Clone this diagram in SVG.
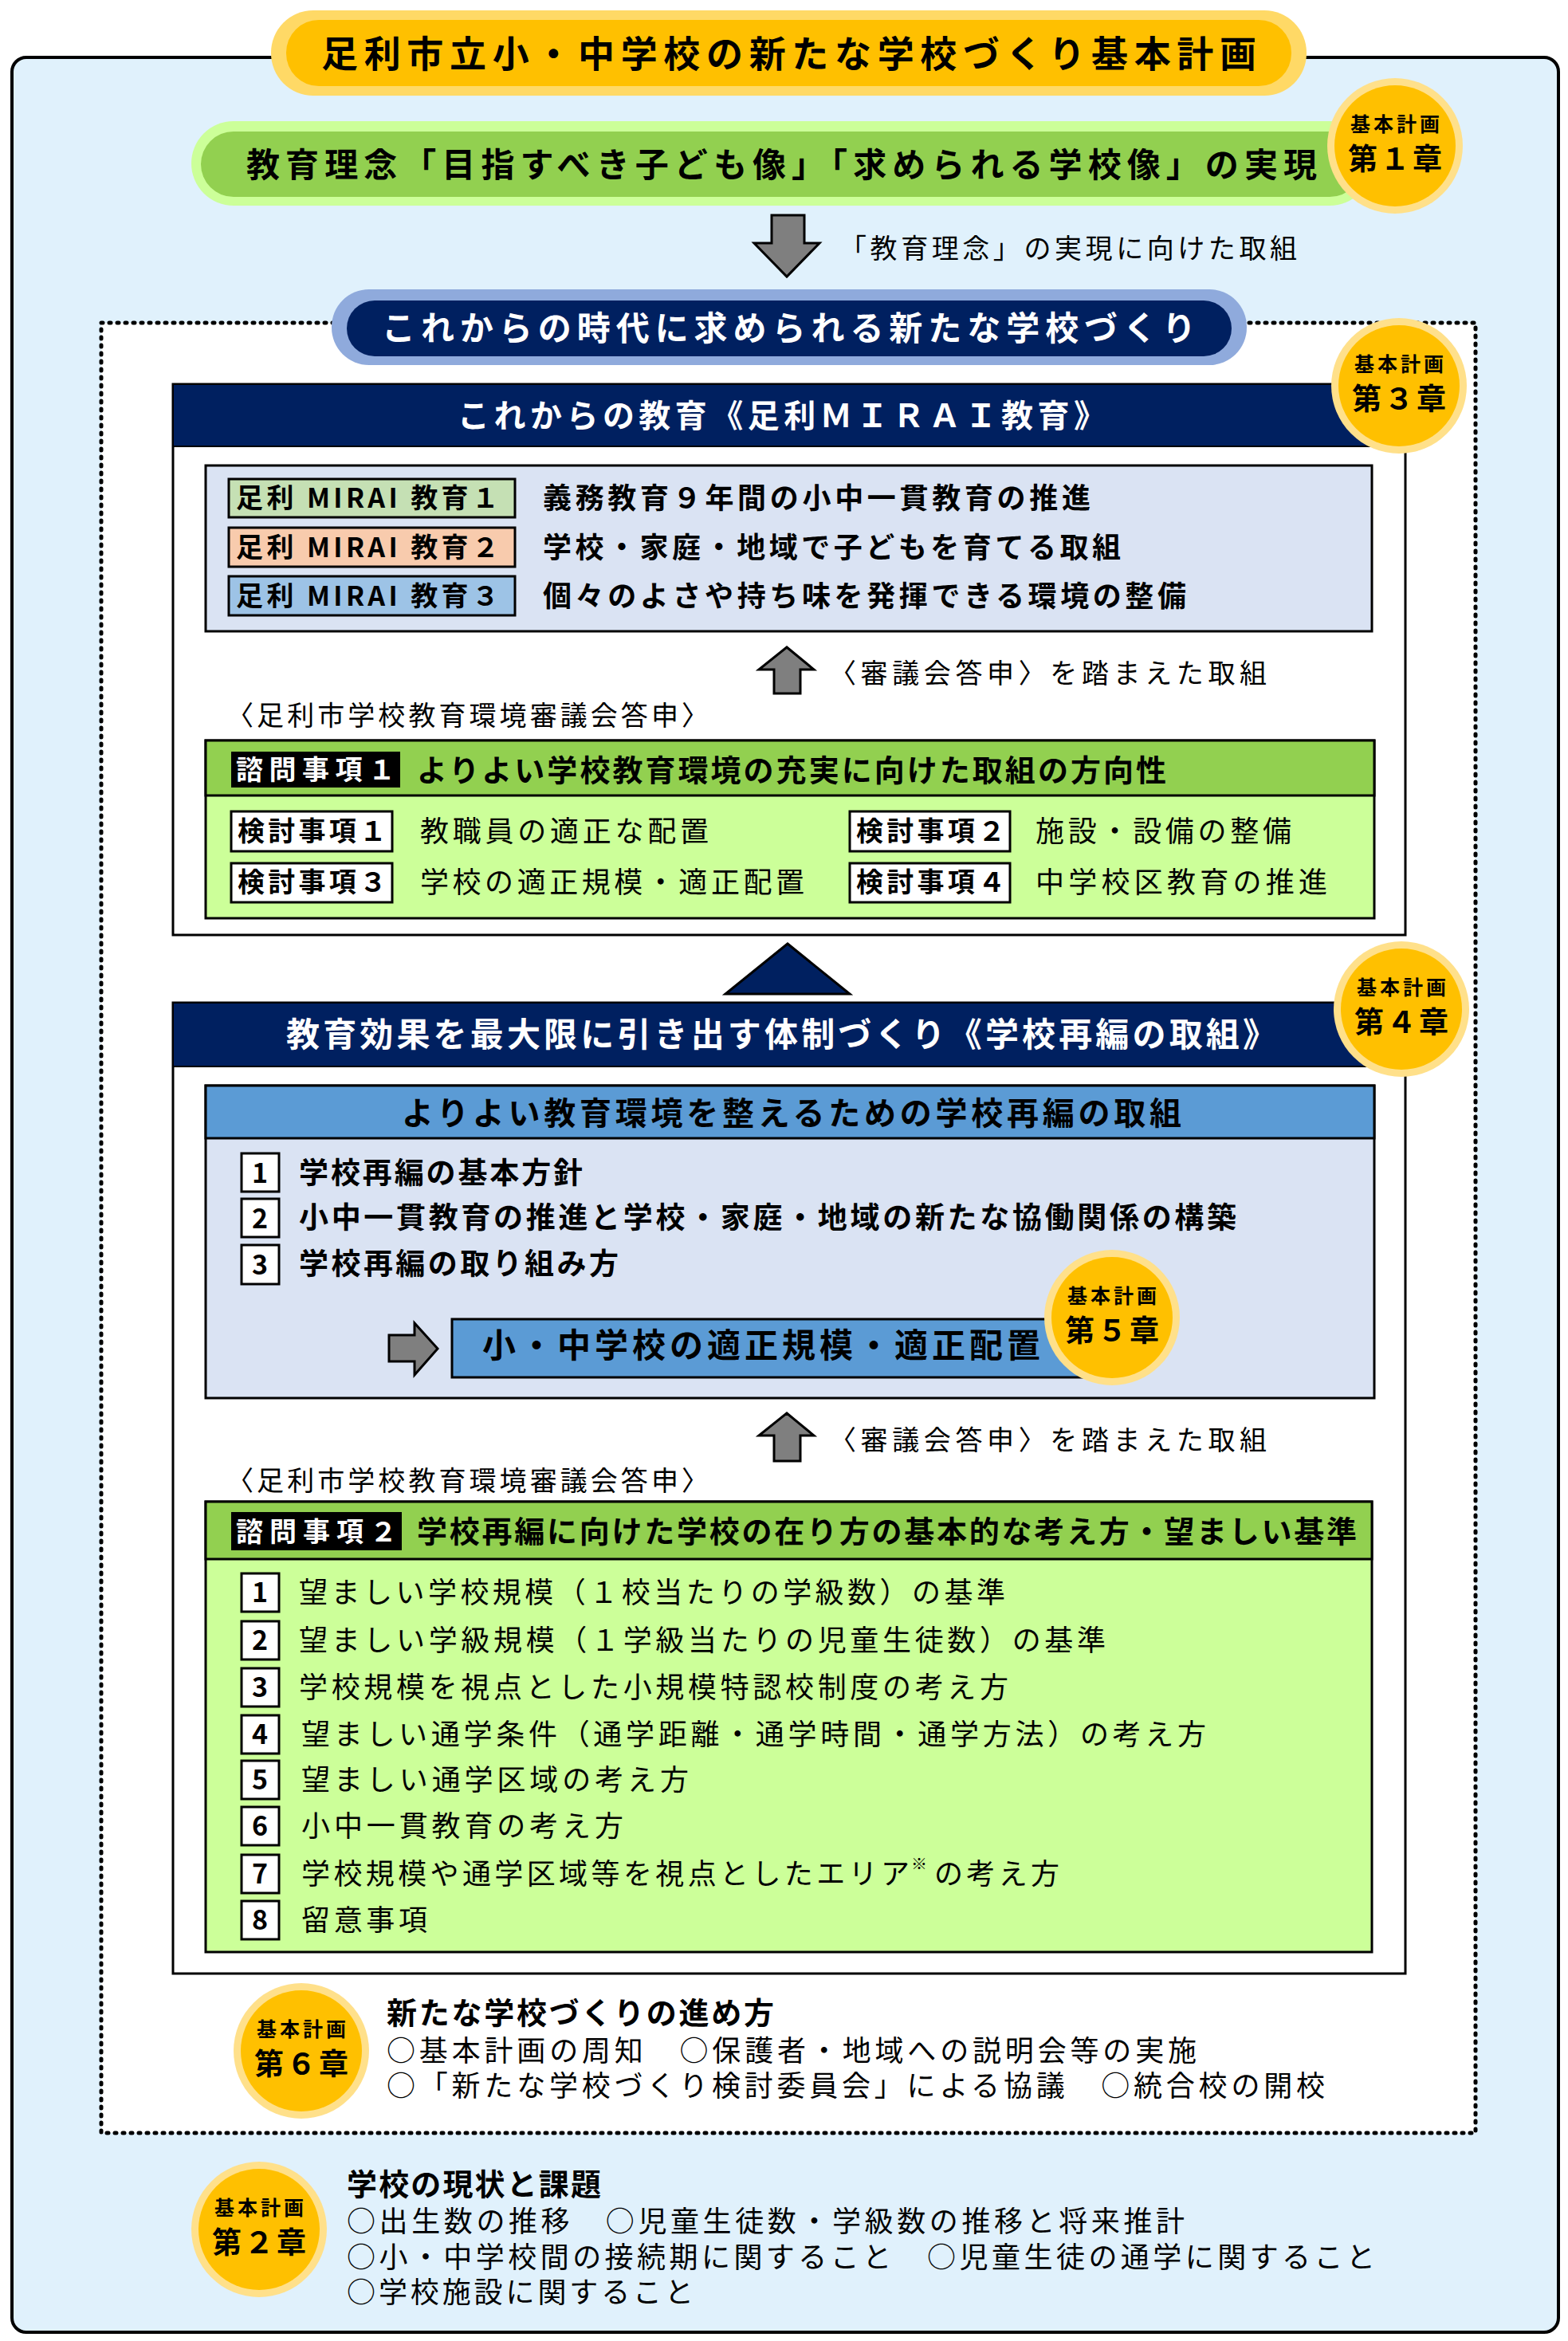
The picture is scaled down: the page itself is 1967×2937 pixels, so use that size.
<svg xmlns="http://www.w3.org/2000/svg" width="1967" height="2937" viewBox="0 0 1967 2937">
<style>
text{font-family:"Noto Sans CJK JP","Noto Sans",sans-serif;fill:#000}
.b{font-weight:700}
.r{font-weight:400}
.w{fill:#fff}
.box{stroke:#000;stroke-width:3}
.arrow{fill:#7f7f7f;stroke:#000;stroke-width:3;stroke-linejoin:miter}
.num{font-weight:700;font-size:34px;text-anchor:middle}
</style>
<defs>
<g id="chap">
<circle r="85" fill="#FFE08A"/>
<circle r="76" fill="#FFC000"/>
</g>
</defs>

<rect x="15" y="72" width="1940" height="2854" rx="18" fill="#E0F1FC" stroke="#000" stroke-width="4"/>

<g id="title">
<rect x="340" y="13" width="1299" height="107" rx="53" fill="#FFD966"/>
<rect x="359" y="25" width="1261" height="83" rx="41" fill="#FFC000"/>
<text class="b" x="403" y="84" font-size="46" textLength="1173" lengthAdjust="spacing">足利市立小・中学校の新たな学校づくり基本計画</text>
</g>

<g id="ideal">
<rect x="240" y="152" width="1481" height="106" rx="53" fill="#CCFF99"/>
<rect x="252" y="165" width="1457" height="82" rx="41" fill="#92D050"/>
<text class="b" x="309" y="222" font-size="42" textLength="1343" lengthAdjust="spacing">教育理念「目指すべき子ども像」「求められる学校像」の実現</text>
</g>

<g id="ch1">
<use href="#chap" x="1750" y="183"/>
<text class="b" x="1694" y="165" font-size="25" textLength="112" lengthAdjust="spacing">基本計画</text>
<text class="b" x="1691" y="213" font-size="37" textLength="118" lengthAdjust="spacing">第１章</text>
</g>

<text class="r" x="1053" y="324" font-size="34" textLength="574" lengthAdjust="spacing">「教育理念」の実現に向けた取組</text>

<g id="frame">
<rect x="127" y="405" width="1724" height="2271" fill="#fff" stroke="#000" stroke-width="5" stroke-dasharray="2 8" stroke-linecap="round"/>
</g>

<g id="newschool">
<rect x="416" y="363" width="1148" height="95" rx="47" fill="#8FAADC"/>
<rect x="435" y="377" width="1110" height="70" rx="35" fill="#002060"/>
<text class="b w" x="479" y="427" font-size="42" textLength="1021" lengthAdjust="spacing">これからの時代に求められる新たな学校づくり</text>
</g>

<g id="mirai">
<rect x="217" y="482" width="1546" height="691" fill="#fff" class="box"/>
<rect x="217" y="482" width="1546" height="78" fill="#002060" stroke="#000" stroke-width="2"/>
<text class="b w" x="574" y="536" font-size="40" textLength="813" lengthAdjust="spacing">これからの教育《足利ＭＩＲＡＩ教育》</text>
<rect x="258" y="584" width="1463" height="208" fill="#DAE3F3" class="box"/>
<rect x="287" y="601" width="359" height="48" fill="#C5E0B4" class="box"/>
<rect x="287" y="662" width="359" height="49" fill="#F8CBAD" class="box"/>
<rect x="287" y="723" width="359" height="49" fill="#9DC3E6" class="box"/>
<text class="b" x="296" y="637" font-size="34" textLength="330" lengthAdjust="spacing">足利 MIRAI 教育１</text>
<text class="b" x="296" y="699" font-size="34" textLength="330" lengthAdjust="spacing">足利 MIRAI 教育２</text>
<text class="b" x="296" y="760" font-size="34" textLength="330" lengthAdjust="spacing">足利 MIRAI 教育３</text>
<text class="b" x="681" y="638" font-size="36" textLength="687" lengthAdjust="spacing">義務教育９年間の小中一貫教育の推進</text>
<text class="b" x="681" y="700" font-size="36" textLength="725" lengthAdjust="spacing">学校・家庭・地域で子どもを育てる取組</text>
<text class="b" x="681" y="761" font-size="36" textLength="807" lengthAdjust="spacing">個々のよさや持ち味を発揮できる環境の整備</text>
<text class="r" x="1040" y="857" font-size="34" textLength="549" lengthAdjust="spacing">〈審議会答申〉を踏まえた取組</text>
<text class="r" x="284" y="910" font-size="34" textLength="605" lengthAdjust="spacing">〈足利市学校教育環境審議会答申〉</text>
<rect x="258" y="929" width="1466" height="223" fill="#CCFF99" class="box"/>
<rect x="258" y="929" width="1466" height="69" fill="#92D050" class="box"/>
<rect x="290" y="943" width="212" height="45" fill="#000"/>
<text class="b w" x="296" y="978" font-size="34" textLength="200" lengthAdjust="spacing">諮問事項１</text>
<text class="b" x="523" y="980" font-size="38" textLength="940" lengthAdjust="spacing">よりよい学校教育環境の充実に向けた取組の方向性</text>
<rect x="290" y="1018" width="202" height="50" fill="#fff" class="box"/>
<rect x="290" y="1083" width="202" height="49" fill="#fff" class="box"/>
<rect x="1066" y="1018" width="201" height="50" fill="#fff" class="box"/>
<rect x="1066" y="1083" width="201" height="49" fill="#fff" class="box"/>
<text class="b" x="298" y="1055" font-size="34" textLength="187" lengthAdjust="spacing">検討事項１</text>
<text class="b" x="298" y="1119" font-size="34" textLength="187" lengthAdjust="spacing">検討事項３</text>
<text class="b" x="1074" y="1055" font-size="34" textLength="187" lengthAdjust="spacing">検討事項２</text>
<text class="b" x="1074" y="1119" font-size="34" textLength="187" lengthAdjust="spacing">検討事項４</text>
<text class="r" x="527" y="1056" font-size="36" textLength="362" lengthAdjust="spacing">教職員の適正な配置</text>
<text class="r" x="527" y="1120" font-size="36" textLength="482" lengthAdjust="spacing">学校の適正規模・適正配置</text>
<text class="r" x="1299" y="1056" font-size="36" textLength="321" lengthAdjust="spacing">施設・設備の整備</text>
<text class="r" x="1299" y="1120" font-size="36" textLength="366" lengthAdjust="spacing">中学校区教育の推進</text>
</g>

<g id="ch3">
<use href="#chap" x="1755" y="484"/>
<text class="b" x="1699" y="466" font-size="25" textLength="112" lengthAdjust="spacing">基本計画</text>
<text class="b" x="1696" y="514" font-size="37" textLength="118" lengthAdjust="spacing">第３章</text>
</g>

<g id="triangle">
<polygon points="988,1184 1066,1247 910,1247" fill="#002060" stroke="#000" stroke-width="3"/>
</g>

<g id="reorg">
<rect x="217" y="1258" width="1546" height="1218" fill="#fff" class="box"/>
<rect x="217" y="1258" width="1546" height="80" fill="#002060" stroke="#000" stroke-width="2"/>
<text class="b w" x="359" y="1313" font-size="42" textLength="1242" lengthAdjust="spacing">教育効果を最大限に引き出す体制づくり《学校再編の取組》</text>
<rect x="258" y="1362" width="1466" height="392" fill="#DAE3F3" class="box"/>
<rect x="258" y="1362" width="1466" height="66" fill="#5B9BD5" class="box"/>
<text class="b" x="504" y="1411" font-size="40" textLength="978" lengthAdjust="spacing">よりよい教育環境を整えるための学校再編の取組</text>
<rect x="303" y="1447" width="47" height="48" fill="#fff" class="box"/>
<rect x="303" y="1504" width="47" height="48" fill="#fff" class="box"/>
<rect x="303" y="1562" width="47" height="49" fill="#fff" class="box"/>
<text class="num" x="326" y="1484">1</text>
<text class="num" x="326" y="1541">2</text>
<text class="num" x="326" y="1599">3</text>
<text class="b" x="375" y="1485" font-size="37" textLength="356" lengthAdjust="spacing">学校再編の基本方針</text>
<text class="b" x="375" y="1541" font-size="37" textLength="1176" lengthAdjust="spacing">小中一貫教育の推進と学校・家庭・地域の新たな協働関係の構築</text>
<text class="b" x="375" y="1599" font-size="37" textLength="401" lengthAdjust="spacing">学校再編の取り組み方</text>
<rect x="567" y="1655" width="840" height="73" fill="#5B9BD5" class="box"/>
<text class="b" x="605" y="1703" font-size="42" textLength="700" lengthAdjust="spacing">小・中学校の適正規模・適正配置</text>
<text class="r" x="1040" y="1819" font-size="34" textLength="549" lengthAdjust="spacing">〈審議会答申〉を踏まえた取組</text>
<text class="r" x="284" y="1870" font-size="34" textLength="605" lengthAdjust="spacing">〈足利市学校教育環境審議会答申〉</text>
<rect x="258" y="1884" width="1463" height="565" fill="#CCFF99" class="box"/>
<rect x="258" y="1884" width="1463" height="72" fill="#92D050" class="box"/>
<rect x="290" y="1897" width="214" height="48" fill="#000"/>
<text class="b w" x="296" y="1934" font-size="34" textLength="202" lengthAdjust="spacing">諮問事項２</text>
<text class="b" x="523" y="1935" font-size="38" textLength="1179" lengthAdjust="spacing">学校再編に向けた学校の在り方の基本的な考え方・望ましい基準</text>
<rect x="303" y="1974" width="47" height="48" fill="#fff" class="box"/>
<rect x="303" y="2034" width="47" height="48" fill="#fff" class="box"/>
<rect x="303" y="2093" width="47" height="48" fill="#fff" class="box"/>
<rect x="303" y="2152" width="47" height="48" fill="#fff" class="box"/>
<rect x="303" y="2209" width="47" height="48" fill="#fff" class="box"/>
<rect x="303" y="2267" width="47" height="48" fill="#fff" class="box"/>
<rect x="303" y="2327" width="47" height="48" fill="#fff" class="box"/>
<rect x="303" y="2385" width="47" height="48" fill="#fff" class="box"/>
<text class="num" x="326" y="2010">1</text>
<text class="num" x="326" y="2070">2</text>
<text class="num" x="326" y="2129">3</text>
<text class="num" x="326" y="2188">4</text>
<text class="num" x="326" y="2245">5</text>
<text class="num" x="326" y="2303">6</text>
<text class="num" x="326" y="2363">7</text>
<text class="num" x="326" y="2421">8</text>
<text class="r" x="375" y="2011" font-size="36" textLength="886" lengthAdjust="spacing">望ましい学校規模（１校当たりの学級数）の基準</text>
<text class="r" x="375" y="2071" font-size="36" textLength="1012" lengthAdjust="spacing">望ましい学級規模（１学級当たりの児童生徒数）の基準</text>
<text class="r" x="375" y="2130" font-size="36" textLength="890" lengthAdjust="spacing">学校規模を視点とした小規模特認校制度の考え方</text>
<text class="r" x="378" y="2189" font-size="36" textLength="1135" lengthAdjust="spacing">望ましい通学条件（通学距離・通学時間・通学方法）の考え方</text>
<text class="r" x="378" y="2246" font-size="36" textLength="486" lengthAdjust="spacing">望ましい通学区域の考え方</text>
<text class="r" x="378" y="2304" font-size="36" textLength="404" lengthAdjust="spacing">小中一貫教育の考え方</text>
<text class="r" x="378" y="2364" font-size="36" textLength="763" lengthAdjust="spacing">学校規模や通学区域等を視点としたエリア</text>
<text class="r" x="1143" y="2346" font-size="20">※</text>
<text class="r" x="1172" y="2364" font-size="36" textLength="157" lengthAdjust="spacing">の考え方</text>
<text class="r" x="378" y="2422" font-size="36" textLength="158" lengthAdjust="spacing">留意事項</text>
</g>

<g id="connectors">
<polygon class="arrow" points="968,270 1009,270 1009,305 1028,305 987,347 946,305 968,305"/>
<polygon class="arrow" points="987,812 1021,840 1004,840 1004,870 971,870 971,840 952,840"/>
<polygon class="arrow" points="987,1773 1021,1801 1004,1801 1004,1833 971,1833 971,1801 952,1801"/>
<polygon class="arrow" points="488,1675 520,1675 520,1660 549,1692 520,1725 520,1708 488,1708"/>
</g>

<g id="ch4">
<use href="#chap" x="1758" y="1266"/>
<text class="b" x="1702" y="1248" font-size="25" textLength="112" lengthAdjust="spacing">基本計画</text>
<text class="b" x="1699" y="1296" font-size="37" textLength="118" lengthAdjust="spacing">第４章</text>
</g>

<g id="ch5">
<use href="#chap" x="1395" y="1653"/>
<text class="b" x="1339" y="1635" font-size="25" textLength="112" lengthAdjust="spacing">基本計画</text>
<text class="b" x="1336" y="1683" font-size="37" textLength="118" lengthAdjust="spacing">第５章</text>
</g>

<g id="ch6">
<use href="#chap" x="378" y="2573"/>
<text class="b" x="322" y="2555" font-size="25" textLength="112" lengthAdjust="spacing">基本計画</text>
<text class="b" x="319" y="2603" font-size="37" textLength="118" lengthAdjust="spacing">第６章</text>
<text class="b" x="485" y="2539" font-size="38" textLength="486" lengthAdjust="spacing">新たな学校づくりの進め方</text>
<text class="r" x="485" y="2586" font-size="36" textLength="1016" lengthAdjust="spacing">○基本計画の周知　○保護者・地域への説明会等の実施</text>
<text class="r" x="485" y="2630" font-size="36" textLength="1177" lengthAdjust="spacing">○「新たな学校づくり検討委員会」による協議　○統合校の開校</text>
</g>

<g id="ch2">
<use href="#chap" x="325" y="2797"/>
<text class="b" x="269" y="2779" font-size="25" textLength="112" lengthAdjust="spacing">基本計画</text>
<text class="b" x="266" y="2827" font-size="37" textLength="118" lengthAdjust="spacing">第２章</text>
<text class="b" x="435" y="2754" font-size="38" textLength="319" lengthAdjust="spacing">学校の現状と課題</text>
<text class="r" x="435" y="2800" font-size="36" textLength="1051" lengthAdjust="spacing">○出生数の推移　○児童生徒数・学級数の推移と将来推計</text>
<text class="r" x="435" y="2845" font-size="36" textLength="1290" lengthAdjust="spacing">○小・中学校間の接続期に関すること　○児童生徒の通学に関すること</text>
<text class="r" x="435" y="2889" font-size="36" textLength="435" lengthAdjust="spacing">○学校施設に関すること</text>
</g>
</svg>
